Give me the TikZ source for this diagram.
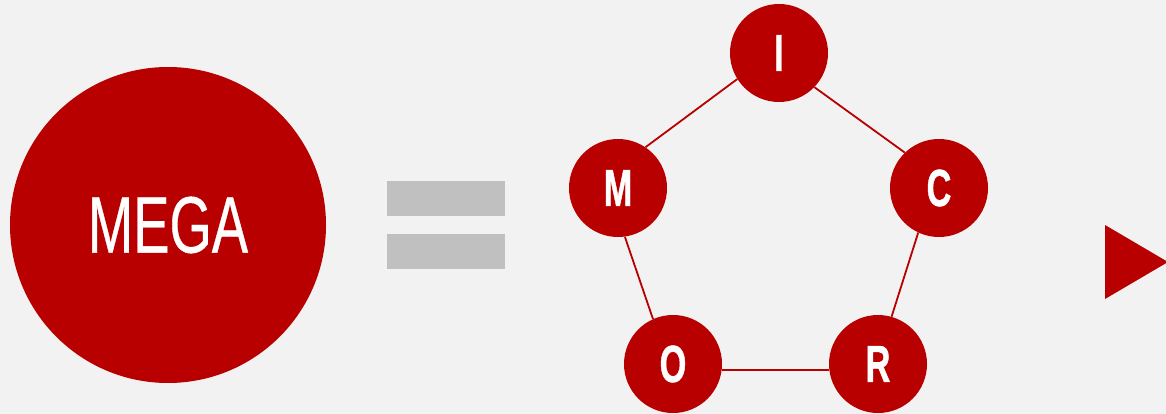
\documentclass[tikz,border=0pt]{standalone}
\usepackage{fontspec}
\setmainfont{Liberation Sans}
\newfontfamily\ringfont{Liberation Sans Bold}[FakeBold=1.2]
\newfontfamily\discfont{Liberation Sans}[FakeBold=0.6]
\definecolor{megared}{HTML}{B80000}
\definecolor{paper}{HTML}{F2F2F2}
\definecolor{bargray}{HTML}{C0C0C0}
\begin{document}
\begin{tikzpicture}[x=1pt,y=-1pt,
  bigdisc/.style={circle,fill=megared,minimum size=316pt,inner sep=0pt,text=white,
    font=\discfont\fontsize{80}{80}\selectfont},
  letter/.style={circle,fill=megared,minimum size=98pt,inner sep=0pt,text=white,
    font=\ringfont\fontsize{52}{52}\selectfont},
  link/.style={draw=megared,line width=1.8pt},
  bar/.style={fill=bargray}]
\useasboundingbox (0,0) rectangle (1166,414);
\clip (0,0) rectangle (1166,414);
\fill[paper] (0,0) rectangle (1166,414);

% left disc
\node[bigdisc] (mega) at (168,225) {\scalebox{0.68}[1]{MEGA}};

% equals sign
\fill[bar] (387,181) rectangle (505,216);
\fill[bar] (387,234) rectangle (505,269);

% ring of letters
\node[letter] (I) at (779,53)  {\scalebox{0.66}[1]{I}};
\node[letter] (M) at (618,188) {\scalebox{0.66}[1]{M}};
\node[letter] (C) at (939,188) {\scalebox{0.66}[1]{C}};
\node[letter] (O) at (673,364) {\scalebox{0.66}[1]{O}};
\node[letter] (R) at (878,364) {\scalebox{0.66}[1]{R}};

\draw[link] (I.212) -- (M.56);
\draw[link] (I.316) -- (C.134);
\draw[link] (C.245) -- (R.74);
\draw[link] (M.278) -- (O.114);
\draw[link] (O.353) -- (R.187);

% play triangle
\fill[megared] (1105,225) -- (1168,262) -- (1105,299) -- cycle;
\end{tikzpicture}
\end{document}
